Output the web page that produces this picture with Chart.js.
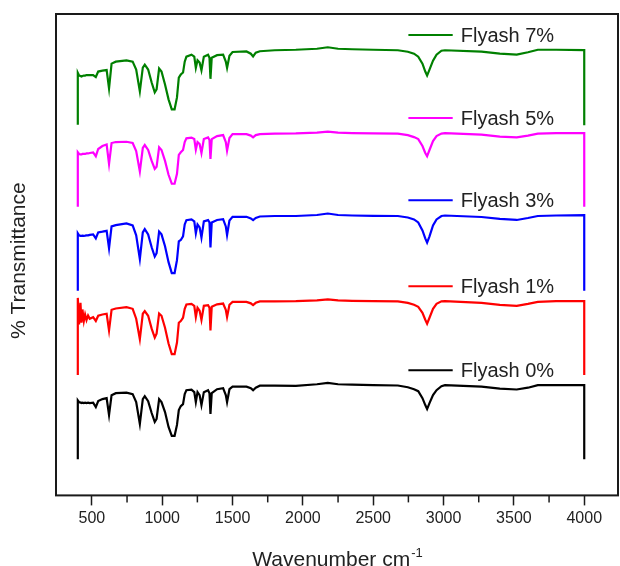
<!DOCTYPE html>
<html lang="en">
<head>
    <meta charset="UTF-8">
    <title>FTIR - Flyash</title>
    <script src="https://cdn.jsdelivr.net/npm/chart.js"></script>
    <style>
        body {
            margin: 0;
            background: #ffffff;
        }
        #ftirChart {
            display: block;
        }
    </style>
</head>
<body>
    <canvas id="ftirChart" width="620" height="566"></canvas>
    <script>
        // Wavenumber (cm-1) shared by all spectra; 400 and 4000 appear twice for the end drops
        const wavenumber = [
            400, 400, 409, 419, 426, 433, 443, 452, 462, 473,
            485, 509, 528, 545, 575, 605, 622, 640, 670, 746,
            790, 815, 841, 862, 876, 900, 925, 947, 960, 978,
            995, 1020, 1045, 1068, 1088, 1105, 1118, 1132, 1148, 1160,
            1172, 1208, 1228, 1239, 1251, 1266, 1279, 1296, 1326, 1336,
            1343, 1352, 1390, 1433, 1452, 1461, 1478, 1500, 1599, 1630,
            1646, 1665, 1694, 1800, 1950, 2100, 2177, 2250, 2350, 2500,
            2675, 2746, 2790, 2820, 2850, 2870, 2883, 2900, 2925, 2950,
            2985, 3010, 3270, 3400, 3520, 3600, 3670, 3800, 4000, 4000
        ];

        // % Transmittance (offset stacked, arbitrary units)
        const flyash7 = [
            374.5, 426.7, 424, 423.5, 423, 423.5, 424, 424, 424.5, 424.5,
            424.5, 424.5, 422.5, 428, 429, 429.5, 411, 436, 438, 439.3,
            438, 430, 408, 432, 435, 430, 417, 407, 410, 431,
            428, 415, 400, 390, 390, 402, 422, 425, 427, 438,
            443, 445, 443, 431.7, 439.3, 437, 429.3, 443, 445, 442,
            420.7, 442, 444.5, 445, 438, 431.7, 444, 447.7, 448.3, 446,
            443.3, 447, 448.5, 449.5, 450, 451, 452.5, 451, 450.5, 450,
            449.5, 448, 446, 443, 436, 428, 424, 430, 439, 445,
            449, 449.5, 448, 446, 445, 447.5, 450, 450, 449.7, 374
        ];
        const flyash5 = [
            291.7, 346.7, 345, 344.5, 344.5, 345, 345, 345, 345.5, 345.5,
            346, 346.5, 342.7, 350, 353, 354.5, 335, 356, 357, 357.3,
            356, 348, 327.3, 351, 354, 349, 338, 330, 332, 351.7,
            349, 338, 324, 315, 315, 325, 344, 346.7, 349, 357,
            360.7, 361.5, 360, 349.3, 357, 355, 346, 360, 361.7, 359,
            340, 360, 363, 364, 357, 348.3, 361, 365, 365, 363.5,
            361.7, 364, 365, 365.5, 365.7, 366.5, 367.5, 366.5, 366, 365.7,
            365.5, 364, 362, 360, 353, 346, 342.7, 349, 358, 363,
            365.5, 366, 364.5, 362.5, 361.7, 363.5, 365.5, 366, 366, 291.7
        ];
        const flyash3 = [
            207.3, 265, 263, 262.5, 262.5, 262.7, 262.5, 262.7, 263, 263,
            263.5, 264, 260, 266, 266.7, 267.5, 250, 272, 273.3, 275,
            273, 263, 239, 266, 269.3, 264, 251, 241.7, 245, 266.7,
            264, 252, 236, 225, 225, 238, 257, 258.3, 262, 274,
            278.3, 279, 277, 265, 274, 271, 260.7, 277, 278.3, 276,
            250.7, 276, 278.5, 279.3, 272, 263.3, 278, 281.7, 281.7, 280,
            278.3, 280.5, 282, 282.5, 282.5, 283.5, 285, 283.5, 283, 282.7,
            282.5, 281, 279, 276, 268, 260, 255.7, 262, 273, 279,
            282.5, 283, 281.5, 279.5, 278.5, 280.5, 282.5, 283, 283.3, 207.3
        ];
        const flyash1 = [
            122.3, 200, 173.3, 195, 175, 188.3, 176.7, 183.3, 177.7, 182.3,
            179, 180.5, 176.7, 182, 183.3, 184, 167.3, 188, 189.3, 190.7,
            189, 179, 158.3, 184, 186.7, 182, 169, 160, 164, 184.3,
            182, 170, 154, 143.3, 143.3, 155, 175, 176.7, 180, 189,
            193.3, 194, 192, 180.7, 190, 187, 177.7, 192, 192.7, 190,
            167.3, 191, 193.5, 194.3, 188, 180.7, 193, 196, 196, 194.5,
            192.7, 195, 196.5, 196.5, 196.7, 197.5, 198.5, 197.5, 197, 196.7,
            196.5, 195, 193, 191, 185, 178, 174, 180, 189, 194,
            196.5, 196.7, 195, 193, 192, 194, 196, 196.7, 196.7, 122.3
        ];
        const flyash0 = [
            37.3, 96.7, 95, 94.5, 94, 94.5, 94, 94.5, 94, 94.5,
            94, 94.5, 90, 96, 98, 99, 82, 102, 104, 104.5,
            103, 95, 73, 98, 101, 96, 84, 75, 78, 98,
            95, 85, 70, 61, 61, 72, 87, 91, 93, 103,
            107, 107.5, 105, 95, 105, 102, 92, 105, 107, 104,
            83, 104, 108, 109, 102, 95, 108, 110.5, 110.5, 109,
            107, 109.5, 111.5, 111.5, 111.3, 113, 114.3, 113, 112.7, 112,
            111.7, 110, 108, 106, 99, 92, 88, 94, 102, 107,
            111, 112, 110.5, 108.5, 107.7, 109.5, 112, 112, 112, 37.3
        ];

        const seriesLabels = ['Flyash 7%', 'Flyash 5%', 'Flyash 3%', 'Flyash 1%', 'Flyash 0%'];
        const seriesValues = [flyash7, flyash5, flyash3, flyash1, flyash0];
        const seriesColors = ['#008000', '#ff00ff', '#0000ff', '#ff0000', '#000000'];

        const xTicks = [500, 1000, 1500, 2000, 2500, 3000, 3500, 4000];
        const xMinorTicks = [750, 1250, 1750, 2250, 2750, 3250, 3750];

        const fontFamily = "'Liberation Sans', Arial, sans-serif";
        const textColor = '#222';

        // frame box, minor ticks, axis titles and the labels next to each trace
        const decorations = {
            id: 'decorations',
            afterDraw(chart) {
                const ctx = chart.ctx;
                const area = chart.chartArea;
                const x = chart.scales.x;
                const y = chart.scales.y;
                ctx.save();
                ctx.strokeStyle = '#1a1a1a';
                ctx.lineWidth = 2;
                ctx.strokeRect(area.left, area.top, area.right - area.left, area.bottom - area.top);

                ctx.lineWidth = 1.5;
                xMinorTicks.forEach(v => {
                    const px = x.getPixelForValue(v);
                    ctx.beginPath();
                    ctx.moveTo(px, area.bottom);
                    ctx.lineTo(px, area.bottom + 7);
                    ctx.stroke();
                });

                // trace labels
                ctx.font = '20px ' + fontFamily;
                ctx.textBaseline = 'middle';
                ctx.textAlign = 'left';
                chart.data.datasets.forEach(ds => {
                    const last = ds.data[ds.data.length - 2];
                    const py = y.getPixelForValue(last.y) - 15;
                    ctx.strokeStyle = ds.borderColor;
                    ctx.lineWidth = 2;
                    ctx.beginPath();
                    ctx.moveTo(x.getPixelForValue(2750), py);
                    ctx.lineTo(x.getPixelForValue(3065), py);
                    ctx.stroke();
                    ctx.fillStyle = textColor;
                    ctx.fillText(ds.label, x.getPixelForValue(3122), py + 1);
                });

                // x title with superscript
                ctx.fillStyle = textColor;
                ctx.textBaseline = 'alphabetic';
                ctx.font = '21px ' + fontFamily;
                const main = 'Wavenumber cm';
                const mainW = ctx.measureText(main).width;
                ctx.font = '13px ' + fontFamily;
                const sup = '-1';
                const supW = ctx.measureText(sup).width;
                const startX = (area.left + area.right) / 2 - (mainW + supW) / 2;
                ctx.font = '21px ' + fontFamily;
                ctx.fillText(main, startX, 566);
                ctx.font = '13px ' + fontFamily;
                ctx.fillText(sup, startX + mainW + 1, 557);

                // y title
                ctx.save();
                ctx.translate(19, (area.top + area.bottom) / 2 + 6);
                ctx.rotate(-Math.PI / 2);
                ctx.font = '21px ' + fontFamily;
                ctx.textAlign = 'center';
                ctx.textBaseline = 'middle';
                ctx.fillText('% Transmittance', 0, 0);
                ctx.restore();

                ctx.restore();
            }
        };

        const ctx = document.getElementById('ftirChart').getContext('2d');
        const ftirChart = new Chart(ctx, {
            type: 'line',
            data: {
                datasets: seriesLabels.map((label, i) => ({
                    label: label,
                    data: wavenumber.map((w, j) => ({ x: w, y: seriesValues[i][j] })),
                    borderColor: seriesColors[i],
                    borderWidth: 2.2,
                    pointRadius: 0,
                    fill: false,
                    tension: 0
                }))
            },
            options: {
                responsive: false,
                animation: false,
                layout: {
                    padding: { top: 14, right: 2, left: 0, bottom: 34 }
                },
                plugins: {
                    legend: { display: false },
                    tooltip: { enabled: false }
                },
                scales: {
                    x: {
                        type: 'linear',
                        min: 245,
                        max: 4240,
                        afterBuildTicks: scale => {
                            scale.ticks = xTicks.map(v => ({ value: v }));
                        },
                        grid: {
                            drawOnChartArea: false,
                            drawTicks: true,
                            tickLength: 10,
                            tickWidth: 1.5,
                            tickColor: '#1a1a1a'
                        },
                        border: { display: false },
                        ticks: {
                            padding: 3.7,
                            color: textColor,
                            font: { family: fontFamily, size: 16 },
                            maxRotation: 0,
                            callback: v => String(v)
                        }
                    },
                    y: {
                        type: 'linear',
                        min: 1,
                        max: 486,
                        grid: { display: false },
                        border: { display: false },
                        ticks: { display: false },
                        afterFit: scale => { scale.width = 56; }
                    }
                }
            },
            plugins: [decorations]
        });
    </script>
</body>
</html>
